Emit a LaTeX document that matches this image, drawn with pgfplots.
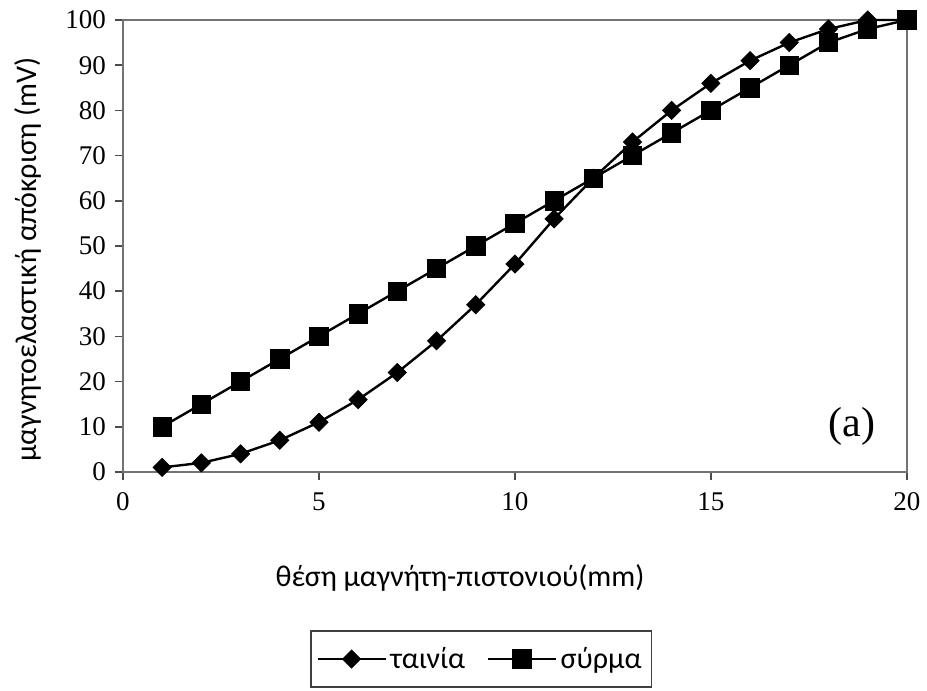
\documentclass[border=0pt]{standalone}
\usepackage{fontspec}
\setmainfont{Liberation Serif}
\newfontfamily\lblfont{Carlito}
\usepackage{pgfplots}
\pgfplotsset{compat=1.18}

\begin{document}
\begin{tikzpicture}
\begin{axis}[
  width=392pt, height=226pt, scale only axis,
  xmin=0, xmax=20, ymin=0, ymax=100,
  xtick={0,5,10,15,20},
  ytick={0,10,...,100},
  xtick pos=bottom, ytick pos=left,
  tick align=outside,
  major tick length=4pt,
  axis line style={draw=black!55, line width=0.9pt},
  tick style={black!70, line width=0.8pt},
  tick label style={font=\fontsize{13.5}{15}\selectfont},
  /pgf/number format/assume math mode=true,
  xticklabel style={yshift=-3pt},
  yticklabel style={xshift=-1pt},
  xlabel={\lblfont θέση μαγνήτη-πιστονιού(mm)},
  ylabel={\lblfont μαγνητοελαστική απόκριση (mV)},
  label style={font=\fontsize{15}{17}\selectfont},
  xlabel style={at={(rel axis cs:0.43,0)}, anchor=center, yshift=-53pt},
  ylabel style={at={(rel axis cs:0,0.47)}, anchor=center, rotate=0, yshift=47.5pt},
  legend style={at={(0.457,-0.414)}, anchor=center, legend columns=2,
    draw=black!75, line width=0.8pt, font=\lblfont\fontsize{15}{17}\selectfont,
    inner xsep=3pt, inner ysep=6pt,
    /tikz/every even column/.append style={column sep=9pt}},
  legend image code/.code={%
    \draw[mark repeat=2, mark phase=2, line width=0.7pt]
      plot coordinates {(0pt,0pt) (17pt,0pt) (34pt,0pt)};},
  legend cell align=left,
  clip=false,
]
\addplot[black, line width=1.2pt, mark=square*, mark size=3.2pt,
  mark options={rotate=45, solid, line width=0.4pt}]
coordinates {
(1,1) (2,2) (3,4) (4,7) (5,11) (6,16) (7,22) (8,29) (9,37) (10,46)
(11,56) (12,65) (13,73) (14,80) (15,86) (16,91) (17,95) (18,98) (19,100) (20,100)
};
\addlegendentry{ταινία}
\addplot[black, line width=1.2pt, mark=square*, mark size=4.6pt,
  mark options={solid, line width=0.4pt}]
coordinates {
(1,10) (2,15) (3,20) (4,25) (5,30) (6,35) (7,40) (8,45) (9,50) (10,55)
(11,60) (12,65) (13,70) (14,75) (15,80) (16,85) (17,90) (18,95) (19,98) (20,100)
};
\addlegendentry{σύρμα}
\node[font=\fontsize{21}{24}\selectfont] at (axis cs:18.6,10) {(a)};
\path (rel axis cs:0,0) ++(-61.5pt,-109.5pt) coordinate (bbsw);
\path (rel axis cs:1,1) ++(10pt,10pt) coordinate (bbne);
\end{axis}
\useasboundingbox (bbsw) rectangle (bbne);
\end{tikzpicture}
\end{document}
